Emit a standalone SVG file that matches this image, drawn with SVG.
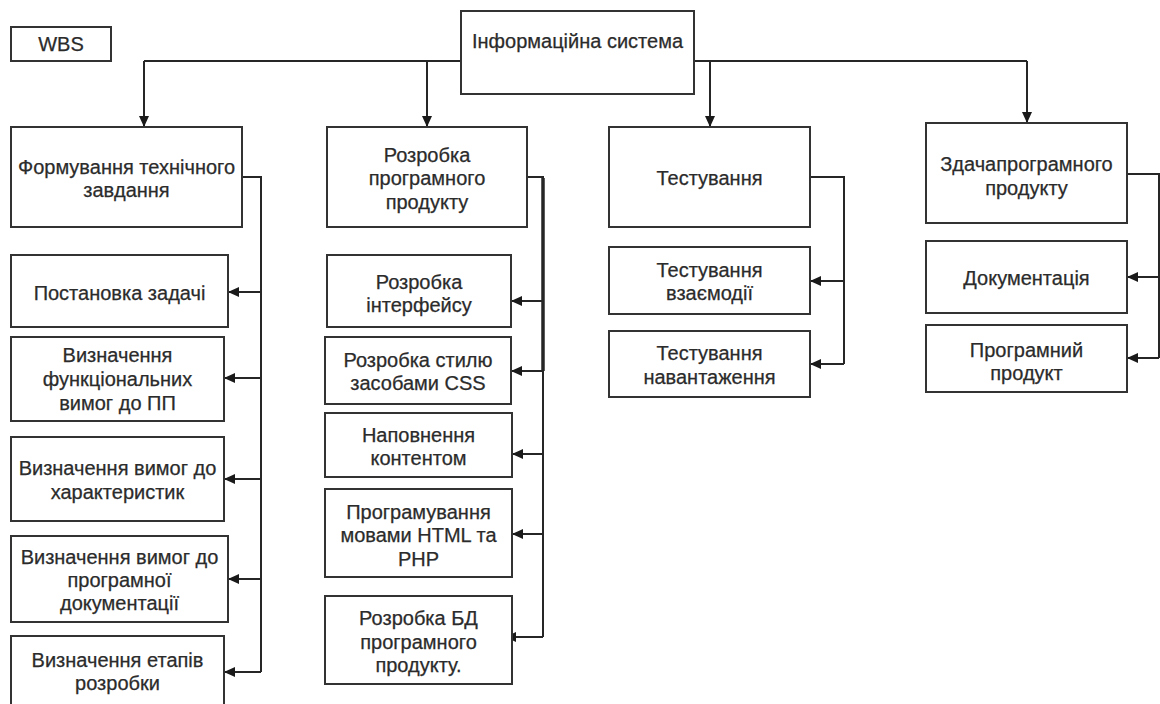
<svg xmlns="http://www.w3.org/2000/svg" width="1160" height="704" viewBox="0 0 1160 704">
  <style>
    .box { fill: #ffffff; stroke: #333333; stroke-width: 2; }
    .lbl { font-family: "Liberation Sans", Arial, sans-serif; font-size: 20px; fill: #2b2b2b; stroke: #2b2b2b; stroke-width: 0.25; text-anchor: middle; }
    .edge { fill: none; stroke: #262626; stroke-width: 2; }
    .arr { marker-end: url(#head); }
  </style>
  <defs>
    <marker id="head" markerUnits="userSpaceOnUse" markerWidth="11" markerHeight="10" refX="11" refY="5" orient="auto">
      <path d="M0,0 L11,5 L0,10 z" fill="#1a1a1a"/>
    </marker>
  </defs>
  <rect width="1160" height="704" fill="#ffffff"/>

  <!-- connectors -->
  <g id="connectors">
    <!-- root to top-level branches -->
    <path class="edge" d="M144,61 L1027,61"/>
    <path class="edge arr" d="M144,61 L144,127"/>
    <path class="edge arr" d="M427,61 L427,127"/>
    <path class="edge arr" d="M710,61 L710,127"/>
    <path class="edge arr" d="M1027,61 L1027,123"/>

    <!-- column 1 -->
    <path class="edge" d="M242,177 L261,177 L261,672"/>
    <path class="edge arr" d="M261,292 L228,292"/>
    <path class="edge arr" d="M261,378 L224,378"/>
    <path class="edge arr" d="M261,479 L224,479"/>
    <path class="edge arr" d="M261,579 L228,579"/>
    <path class="edge arr" d="M261,672 L224,672"/>

    <!-- column 2 -->
    <path class="edge" d="M527,177 L543,177 L543,637"/>
    <path class="edge" style="stroke-width:3.5" d="M543,178 L543,371"/>
    <path class="edge arr" d="M543,301 L511,301"/>
    <path class="edge arr" d="M543,371 L511,371"/>
    <path class="edge arr" d="M543,454 L512,454"/>
    <path class="edge arr" d="M543,534 L512,534"/>
    <path class="edge arr" d="M543,637 L505,637"/>

    <!-- column 3 -->
    <path class="edge" d="M810,177 L844,177 L844,364"/>
    <path class="edge arr" d="M844,281 L810,281"/>
    <path class="edge arr" d="M844,364 L810,364"/>

    <!-- column 4 -->
    <path class="edge" d="M1127,174 L1159,174 L1159,358"/>
    <path class="edge arr" d="M1159,277 L1127,277"/>
    <path class="edge arr" d="M1159,358 L1127,358"/>
  </g>

  <!-- legend -->
  <g id="wbs">
    <rect class="box" x="11" y="27" width="100" height="34"/>
    <text class="lbl" x="61" y="51">WBS</text>
  </g>

  <!-- root -->
  <g id="root">
    <rect class="box" x="461" y="11" width="233" height="83"/>
    <text class="lbl" x="577.5" y="48">Інформаційна система</text>
  </g>

  <!-- column 1 -->
  <g id="n1">
    <rect class="box" x="11" y="127" width="231" height="100"/>
    <text class="lbl" x="126.5" y="174">Формування технічного</text>
    <text class="lbl" x="126.5" y="197">завдання</text>
  </g>
  <g id="n1a">
    <rect class="box" x="11" y="255" width="217" height="72"/>
    <text class="lbl" x="119.5" y="300">Постановка задачі</text>
  </g>
  <g id="n1b">
    <rect class="box" x="11" y="337" width="213" height="84"/>
    <text class="lbl" x="117.5" y="362">Визначення</text>
    <text class="lbl" x="117.5" y="386">функціональних</text>
    <text class="lbl" x="117.5" y="410">вимог до ПП</text>
  </g>
  <g id="n1c">
    <rect class="box" x="11" y="437" width="213" height="84"/>
    <text class="lbl" x="117.5" y="475">Визначення вимог до</text>
    <text class="lbl" x="117.5" y="499">характеристик</text>
  </g>
  <g id="n1d">
    <rect class="box" x="11" y="536" width="217" height="86"/>
    <text class="lbl" x="119.5" y="564">Визначення вимог до</text>
    <text class="lbl" x="119.5" y="587">програмної</text>
    <text class="lbl" x="119.5" y="610">документації</text>
  </g>
  <g id="n1e">
    <rect class="box" x="11" y="636" width="213" height="80"/>
    <text class="lbl" x="117.5" y="667">Визначення етапів</text>
    <text class="lbl" x="117.5" y="690">розробки</text>
  </g>

  <!-- column 2 -->
  <g id="n2">
    <rect class="box" x="327" y="127" width="200" height="100"/>
    <text class="lbl" x="427" y="162">Розробка</text>
    <text class="lbl" x="427" y="185">програмного</text>
    <text class="lbl" x="427" y="209">продукту</text>
  </g>
  <g id="n2a">
    <rect class="box" x="327" y="255" width="184" height="72"/>
    <text class="lbl" x="419" y="289">Розробка</text>
    <text class="lbl" x="419" y="312">інтерфейсу</text>
  </g>
  <g id="n2b">
    <rect class="box" x="325" y="337" width="186" height="67"/>
    <text class="lbl" x="418" y="367">Розробка стилю</text>
    <text class="lbl" x="418" y="390">засобами CSS</text>
  </g>
  <g id="n2c">
    <rect class="box" x="325" y="413" width="187" height="64"/>
    <text class="lbl" x="418.5" y="442">Наповнення</text>
    <text class="lbl" x="418.5" y="465">контентом</text>
  </g>
  <g id="n2d">
    <rect class="box" x="325" y="489" width="187" height="88"/>
    <text class="lbl" x="418.5" y="519">Програмування</text>
    <text class="lbl" x="418.5" y="542">мовами HTML та</text>
    <text class="lbl" x="418.5" y="566">PHP</text>
  </g>
  <g id="n2e">
    <rect class="box" x="325" y="596" width="187" height="88"/>
    <text class="lbl" x="418.5" y="625">Розробка БД</text>
    <text class="lbl" x="418.5" y="649">програмного</text>
    <text class="lbl" x="418.5" y="672">продукту.</text>
  </g>

  <!-- column 3 -->
  <g id="n3">
    <rect class="box" x="609" y="127" width="201" height="100"/>
    <text class="lbl" x="709.5" y="185">Тестування</text>
  </g>
  <g id="n3a">
    <rect class="box" x="609" y="247" width="201" height="67"/>
    <text class="lbl" x="709.5" y="277">Тестування</text>
    <text class="lbl" x="709.5" y="300">взаємодії</text>
  </g>
  <g id="n3b">
    <rect class="box" x="609" y="331" width="201" height="66"/>
    <text class="lbl" x="709.5" y="360">Тестування</text>
    <text class="lbl" x="709.5" y="384">навантаження</text>
  </g>

  <!-- column 4 -->
  <g id="n4">
    <rect class="box" x="926" y="123" width="201" height="100"/>
    <text class="lbl" x="1026.5" y="171">Здачапрограмного</text>
    <text class="lbl" x="1026.5" y="195">продукту</text>
  </g>
  <g id="n4a">
    <rect class="box" x="926" y="241" width="201" height="72"/>
    <text class="lbl" x="1026.5" y="285">Документація</text>
  </g>
  <g id="n4b">
    <rect class="box" x="926" y="325" width="201" height="67"/>
    <text class="lbl" x="1026.5" y="357">Програмний</text>
    <text class="lbl" x="1026.5" y="380">продукт</text>
  </g>
</svg>
